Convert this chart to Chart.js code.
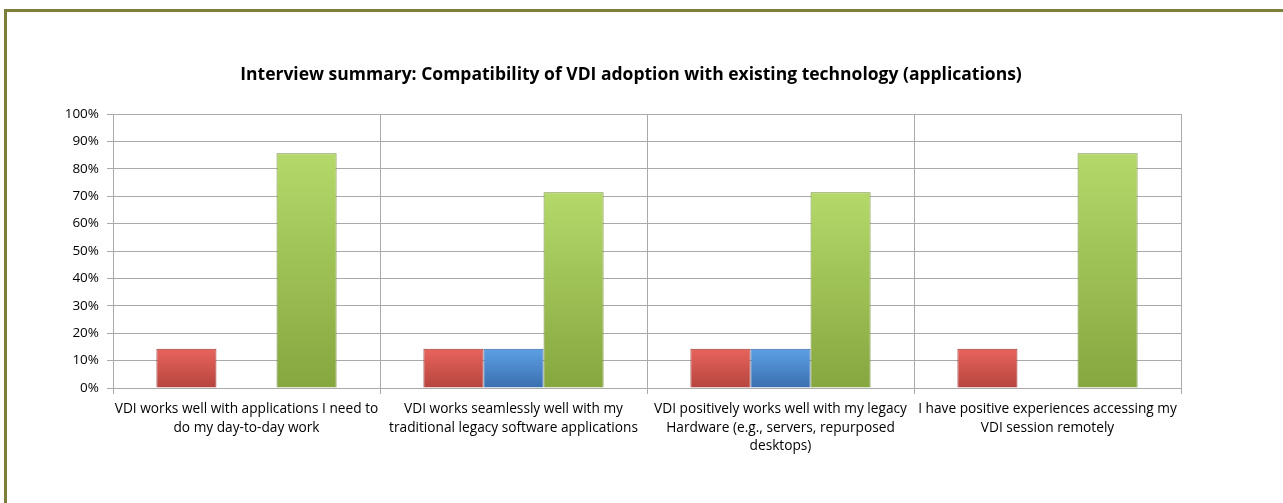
<!DOCTYPE html>
<html>
<head>
<meta charset="utf-8">
<script src="https://cdn.jsdelivr.net/npm/chart.js@4"></script>
<style>
    html, body { margin: 0; padding: 0; background: #fff; }
    #frame { position: absolute; left: 4px; top: 9px; width: 1290px; height: 510px;
             border-left: 3px solid #7d7d3c; border-top: 3px solid #7d7d3c; }
    #wrap { position: absolute; left: 0; top: 0; width: 1283px; height: 503px; }
</style>
</head>
<body>
<div id="frame"></div>
<div id="wrap"><canvas id="grafico"></canvas></div>
<script>
    // --- Dados ---
    const categorias = [
        ['VDI works well with applications I need to', 'do my day-to-day work'],
        ['VDI works seamlessly well with my', 'traditional legacy software applications'],
        ['VDI positively works well with my legacy', 'Hardware (e.g., servers, repurposed', 'desktops)'],
        ['I have positive experiences accessing my', 'VDI session remotely']
    ];
    const serieVermelha = [14.3, 14.3, 14.3, 14.3];
    const serieAzul = [0, 14.3, 14.3, 0];
    const serieVerde = [85.7, 71.4, 71.4, 85.7];
    const ticksY = [0, 10, 20, 30, 40, 50, 60, 70, 80, 90, 100];

    // gradiente por barra (claro em cima, escuro embaixo)
    function gradiente(topo, base) {
        return (context) => {
            const chart = context.chart;
            const area = chart.chartArea;
            if (!area || context.parsed == null) return base;
            const y = chart.scales.y;
            const yTop = y.getPixelForValue(context.parsed.y);
            const yBot = y.getPixelForValue(0);
            if (!(yBot > yTop)) return base;
            const g = chart.ctx.createLinearGradient(0, yTop, 0, yBot);
            g.addColorStop(0, topo);
            g.addColorStop(1, base);
            return g;
        };
    }

    const fonte = "'Open Sans', 'DejaVu Sans', sans-serif";

    const ctx = document.getElementById('grafico').getContext('2d');
    new Chart(ctx, {
        type: 'bar',
        data: {
            labels: categorias,
            datasets: [
                { data: serieVermelha, backgroundColor: gradiente('#e8645d', '#b5443e'), borderColor: '#9c3a35', borderWidth: 1 },
                { data: serieAzul, backgroundColor: gradiente('#5d9fe4', '#3a6fb0'), borderColor: '#34659e', borderWidth: 1 },
                { data: serieVerde, backgroundColor: gradiente('#b4d96a', '#86a63f'), borderColor: '#748f36', borderWidth: 1 }
            ]
        },
        options: {
            responsive: true,
            maintainAspectRatio: false,
            animation: false,
            datasets: { bar: { categoryPercentage: 0.675, barPercentage: 1.0 } },
            layout: { padding: { left: 50, right: 71, top: 0, bottom: 0 } },
            plugins: {
                legend: { display: false },
                tooltip: { enabled: false },
                title: {
                    display: true,
                    text: 'Interview summary: Compatibility of VDI adoption with existing technology (applications)',
                    color: '#000',
                    font: { family: fonte, size: 17.5, weight: 'bold' },
                    padding: { top: 65, bottom: 28 }
                }
            },
            scales: {
                x: {
                    grid: { color: '#aaaaaa', offset: true, tickLength: 6 },
                    border: { color: '#aaaaaa' },
                    ticks: { color: '#000', font: { family: fonte, size: 13.7, lineHeight: 1.35 }, maxRotation: 0, autoSkip: false, padding: 6 },
                    afterFit: (scale) => { scale.height = 115; }
                },
                y: {
                    min: 0, max: 100,
                    afterBuildTicks: (scale) => { scale.ticks = ticksY.map(v => ({ value: v })); },
                    grid: { color: '#aaaaaa', tickLength: 6 },
                    border: { color: '#aaaaaa' },
                    ticks: { color: '#000', font: { family: fonte, size: 13.5 }, padding: 8, callback: (v) => v + '%' },
                    afterFit: (scale) => { scale.width = 63; }
                },
                // eixo vazio à direita só para centralizar o título como no original
                y2: {
                    position: 'right',
                    grid: { display: false },
                    border: { display: false },
                    ticks: { display: false },
                    afterFit: (scale) => { scale.width = 31; }
                }
            }
        }
    });
</script>
</body>
</html>
